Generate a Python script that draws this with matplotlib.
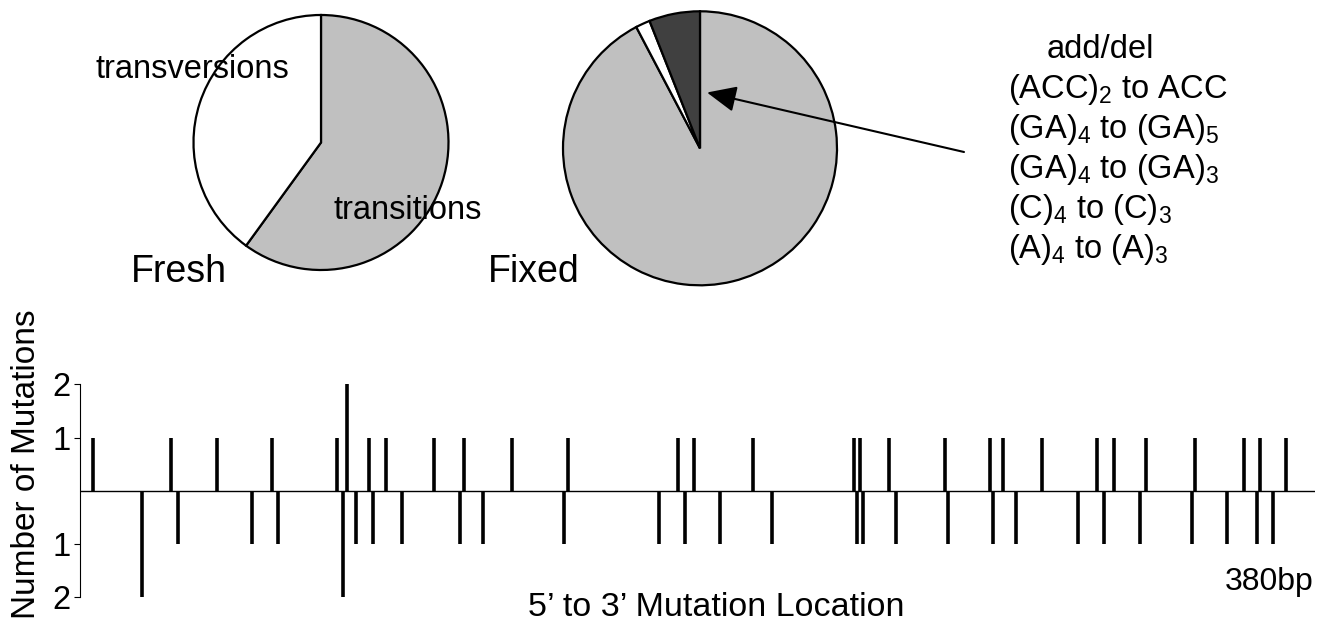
import matplotlib
matplotlib.use("Agg")
import matplotlib.pyplot as plt
from matplotlib.patches import FancyArrowPatch

plt.rcParams['font.family'] = ['Liberation Sans', 'DejaVu Sans']
plt.rcParams['mathtext.default'] = 'regular'

# pie data (percent)
fresh_labels = ["transitions", "transversions"]
fresh_values = [60, 40]
fixed_labels = ["transitions", "transversions", "add/del"]
fixed_values = [92.3, 1.7, 6.0]

# mutation locations (bp) and counts, above and below the axis
upper_pos = [4, 28, 42, 59, 79, 82, 89, 94, 109, 118, 133, 150, 184, 189, 207,
             238, 240, 249, 266, 280, 284, 296, 313, 318, 328, 343, 358, 363, 371]
upper_cnt = [1, 1, 1, 1, 1, 2, 1, 1, 1, 1, 1, 1, 1, 1, 1,
             1, 1, 1, 1, 1, 1, 1, 1, 1, 1, 1, 1, 1, 1]
lower_pos = [19, 30, 53, 61, 81, 85, 90, 99, 117, 124, 149, 178, 186, 197, 213,
             239, 241, 251, 267, 281, 288, 307, 315, 326, 342, 353, 362, 367]
lower_cnt = [2, 1, 1, 1, 2, 1, 1, 1, 1, 1, 1, 1, 1, 1, 1,
             1, 1, 1, 1, 1, 1, 1, 1, 1, 1, 1, 1, 1]

adddel_lines = ["(ACC)$_2$ to ACC", "(GA)$_4$ to (GA)$_5$", "(GA)$_4$ to (GA)$_3$",
                "(C)$_4$ to (C)$_3$", "(A)$_4$ to (A)$_3$"]

W, H = 1317, 623
fig = plt.figure(figsize=(W / 100, H / 100), dpi=100)


def fx(x):
    return x / W


def fy(y):
    return 1 - y / H


def pie_axes(cx, cy, r):
    s = 1.05 * r
    return fig.add_axes([fx(cx - s), fy(cy + s), 2 * s / W, 2 * s / H])


wp = dict(edgecolor='black', linewidth=1.6)

ax1 = pie_axes(321, 142.5, 127.5)
ax1.pie(fresh_values, colors=['#c0c0c0', 'white'], startangle=90,
        counterclock=False, wedgeprops=wp)
ax1.set_xlim(-1.05, 1.05)
ax1.set_ylim(-1.05, 1.05)

ax2 = pie_axes(700, 148.3, 137)
ax2.pie(fixed_values, colors=['#c0c0c0', 'white', '#404040'], startangle=90,
        counterclock=False, wedgeprops=wp)
ax2.set_xlim(-1.05, 1.05)
ax2.set_ylim(-1.05, 1.05)

fs = 23.5
fig.text(fx(95), fy(78), "transversions", fontsize=fs, va='baseline')
fig.text(fx(333), fy(219), "transitions", fontsize=fs, va='baseline')
fig.text(fx(131), fy(282), "Fresh", fontsize=27, va='baseline')
fig.text(fx(488), fy(282), "Fixed", fontsize=27, va='baseline')

fig.text(fx(1047), fy(58), "add/del", fontsize=fs, va='baseline')
for i, line in enumerate(adddel_lines):
    fig.text(fx(1008), fy(98 + 40 * i), line, fontsize=fs, va='baseline')

arrow = FancyArrowPatch((fx(964), fy(152)), (fx(707), fy(92.5)),
                        transform=fig.transFigure,
                        arrowstyle='-|>,head_length=0.9,head_width=0.4',
                        mutation_scale=20, color='black', lw=1.5,
                        shrinkA=0, shrinkB=0)
fig.add_artist(arrow)

# mutation location axis
ax = fig.add_axes([fx(80), fy(597.3), 1235 / W, 213 / H])
ax.vlines(upper_pos, 0, upper_cnt, colors='black', linewidth=2.6)
ax.vlines(lower_pos, 0, [-c for c in lower_cnt], colors='black', linewidth=2.6)
ax.axhline(0, color='black', linewidth=1.0)
ax.set_xlim(0, 380)
ax.set_ylim(-2, 2)
ax.set_yticks([-2, -1, 1, 2])
ax.set_yticklabels(["2", "1", "1", "2"], fontsize=fs)
ax.set_xticks([])
for side in ['top', 'right', 'bottom']:
    ax.spines[side].set_visible(False)
ax.spines['left'].set_linewidth(0.8)
ax.tick_params(axis='y', length=4, width=0.8, pad=3)
ax.patch.set_alpha(0)

fig.text(fx(27), fy(464), "Number of Mutations", fontsize=24, rotation=90,
         ha='center', va='center')
fig.text(fx(528), fy(616), "5’ to 3’ Mutation Location", fontsize=24.5,
         va='baseline')
fig.text(fx(1225), fy(590), "380bp", fontsize=23, va='baseline')

plt.savefig("out.png", dpi=100)
